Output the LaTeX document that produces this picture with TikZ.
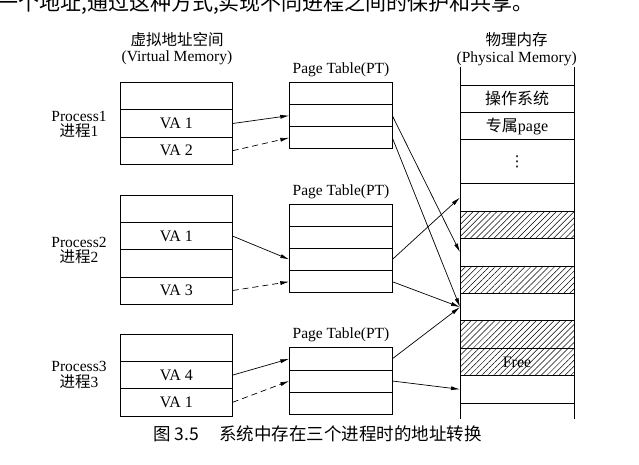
\documentclass[tikz,border=0pt]{standalone}
\usepackage{fontspec}
\setmainfont{Liberation Serif}
\newfontfamily\cjk{Noto Sans CJK SC}
\newfontfamily\sym{DejaVu Sans}
\usetikzlibrary{positioning,patterns.meta,arrows.meta}
\tikzset{
	lab/.style={font=\fontsize{15.5}{15.5}\selectfont, inner sep=0pt, align=center},
	vcell/.style={draw, line width=0.8pt, outer sep=0pt, inner sep=0pt, minimum width=112.7pt, minimum height=27.2pt, font=\fontsize{16}{18}\selectfont},
	pcell/.style={vcell, minimum width=103pt, minimum height=22.2pt},
	mcell/.style={vcell, minimum width=114pt, minimum height=27.4pt},
	hatch/.style={pattern={Lines[angle=45,distance=4.2pt,line width=0.5pt]}},
	map/.style={-{Latex[length=9pt,width=4pt]}, line width=0.7pt},
	mapd/.style={map, dash pattern=on 6pt off 4pt},
}
\begin{document}
\begin{tikzpicture}[x=1pt, y=-1pt]
	\useasboundingbox (0,0) rectangle (639,465);
	\node[anchor=base west, inner sep=0pt, font=\fontsize{21}{21}\selectfont] (topline) at (-3,11) {\cjk 一个地址,通过这种方式,实现不同进程之间的保护和共享。};
	\node[lab] (vmhead) at (177,40) {\cjk 虚拟地址空间};
	\node[lab] (vmsub) at (177,58) {(Virtual Memory)};
	\node[lab] (pmhead) at (516.7,40) {\cjk 物理内存};
	\node[lab] (pmsub) at (516.7,58.3) {(Physical Memory)};

	\node[lab] (proc1) at (79,124.5) {Process1\\{\cjk 进程}1};
	\node[vcell] (v1a) at (176.3,96.3) {};
	\node[vcell, below=0pt of v1a] (v1b) {VA 1};
	\node[vcell, below=0pt of v1b] (v1c) {VA 2};

	\node[lab] (proc2) at (79,250.5) {Process2\\{\cjk 进程}2};
	\node[vcell] (v2a) at (176.3,208.9) {};
	\node[vcell, below=0pt of v2a] (v2b) {VA 1};
	\node[vcell, below=0pt of v2b] (v2c) {};
	\node[vcell, below=0pt of v2c] (v2d) {VA 3};

	\node[lab] (proc3) at (79,375) {Process3\\{\cjk 进程}3};
	\node[vcell] (v3a) at (176.3,347.9) {};
	\node[vcell, below=0pt of v3a] (v3b) {VA 4};
	\node[vcell, below=0pt of v3b] (v3c) {VA 1};

	\node[lab] (pt1lab) at (341,69.3) {Page Table(PT)};
	\node[pcell] (p1a) at (340.8,93.4) {};
	\node[pcell, below=0pt of p1a] (p1b) {};
	\node[pcell, below=0pt of p1b] (p1c) {};

	\node[lab] (pt2lab) at (341,191.7) {Page Table(PT)};
	\node[pcell] (p2a) at (340.8,215.1) {};
	\node[pcell, below=0pt of p2a] (p2b) {};
	\node[pcell, below=0pt of p2b] (p2c) {};
	\node[pcell, below=0pt of p2c] (p2d) {};

	\node[lab] (pt3lab) at (341,334.3) {Page Table(PT)};
	\node[pcell] (p3a) at (340.8,358.8) {};
	\node[pcell, below=0pt of p3a] (p3b) {};
	\node[pcell, below=0pt of p3b] (p3c) {};

	\node[mcell] (m1) at (517,98.7) {\cjk 操作系统};
	\node[mcell, below=0pt of m1] (m2) {{\cjk 专属}page};
	\node[mcell, minimum height=44pt, below=0pt of m2] (m3) {\sym\fontsize{15}{15}\selectfont ⋮};
	\node[mcell, below=0pt of m3] (m4) {};
	\node[mcell, hatch, below=0pt of m4] (m5) {};
	\node[mcell, below=0pt of m5] (m6) {};
	\node[mcell, hatch, below=0pt of m6] (m7) {};
	\node[mcell, below=0pt of m7] (m8) {};
	\node[mcell, hatch, below=0pt of m8] (m9) {};
	\node[mcell, hatch, below=0pt of m9] (m10) {Free};
	\node[mcell, below=0pt of m10] (m11) {};
	\draw[line width=0.8pt] (m1.north west) -- ++(0,-18) (m1.north east) -- ++(0,-18);
	\draw[line width=0.8pt] (m11.south west) -- ++(0,15.5) (m11.south east) -- ++(0,15.5);

	\draw[map] (v1b.east) -- (p1b.west);
	\draw[mapd] (v1c.east) -- (p1c.west);
	\draw[map] (v2b.east) -- (p2c.west);
	\draw[mapd] (v2d.east) -- (p2d.west);
	\draw[map] (v3b.east) -- (p3a.west);
	\draw[mapd] (v3c.east) -- (p3b.west);

	\draw[map] (p1b.east) -- (m6.west);
	\draw[map] (p1c.east) -- (m8.west);
	\draw[map] (p2c.east) -- (m4.west);
	\draw[map] (p2d.east) -- (m8.west);
	\draw[map] (p3a.east) -- (m8.west);
	\draw[map] (p3b.east) -- (m11.west);

	\node[inner sep=0pt, font=\fontsize{17.5}{17.5}\selectfont] (caption) at (317.5,434.3) {\cjk 图~3.5\hspace{20pt}系统中存在三个进程时的地址转换};
\end{tikzpicture}
\end{document}
